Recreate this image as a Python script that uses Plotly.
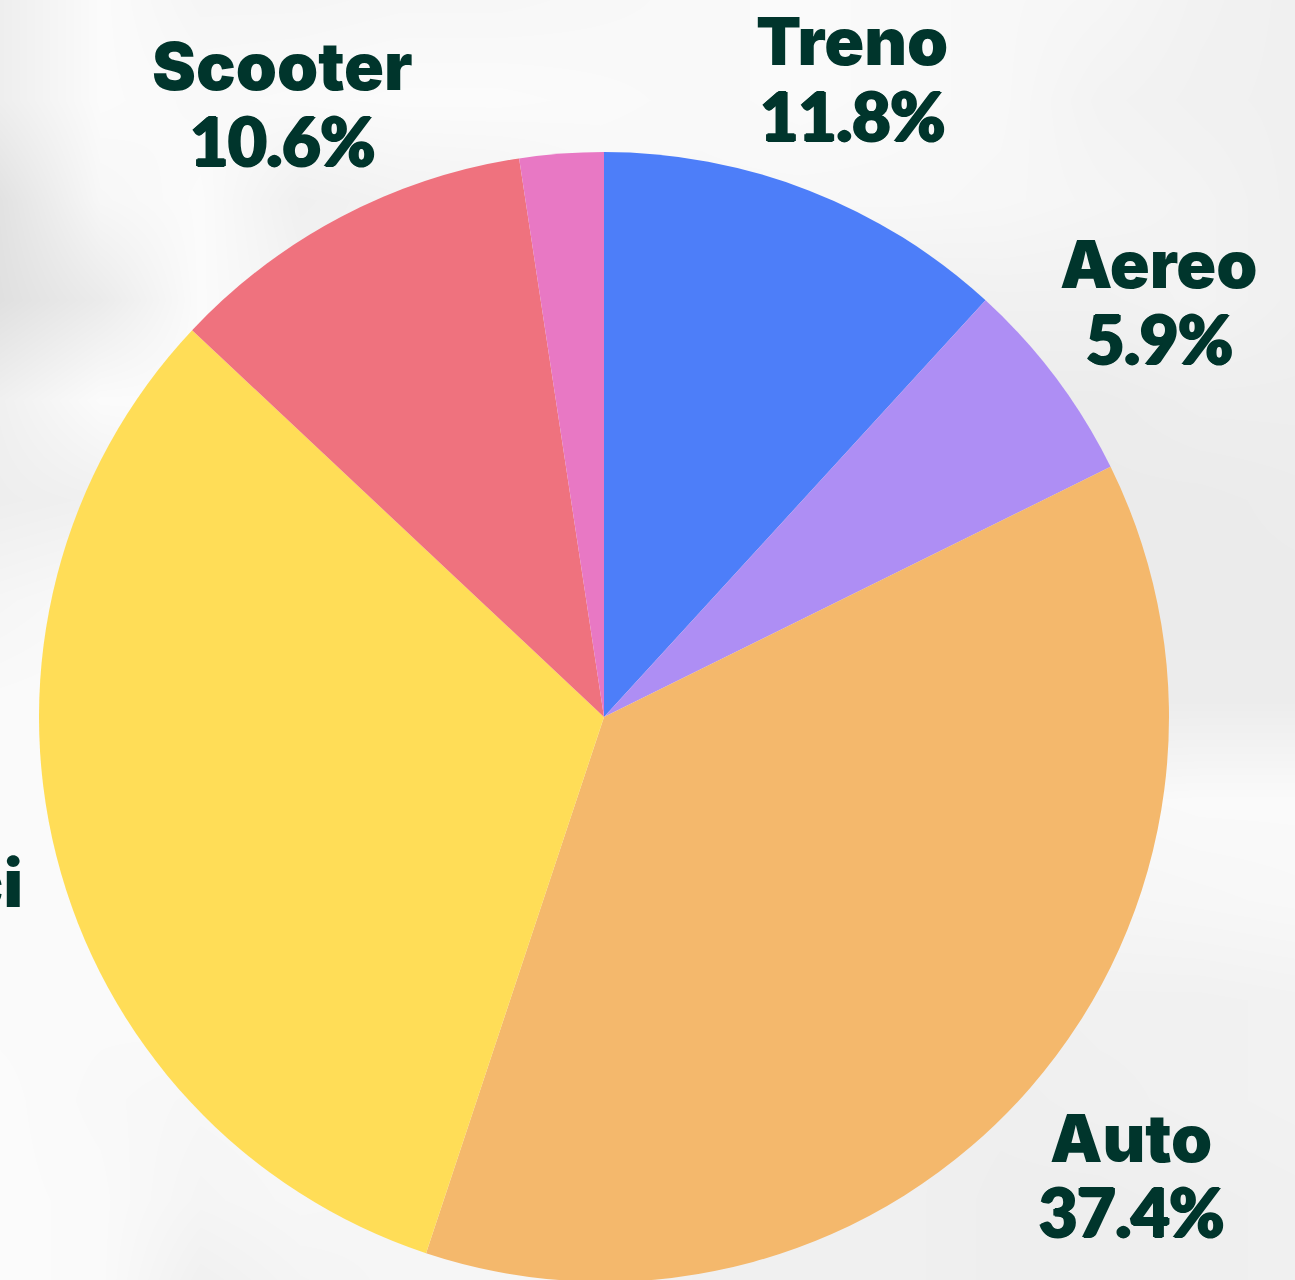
import plotly.graph_objects as go

categories = ["Treno", "Aereo", "Auto", "Mezzi pubblici", "Scooter", "Altro"]
shares = [11.8, 5.9, 37.4, 31.9, 10.6, 2.4]
slice_colors = ["#4d7ef9", "#ae8ef4", "#f4b86c", "#ffdd57", "#ef727e", "#e878c4"]

# Label placement in page pixels: (x, y of name line, y of percent line)
label_names = ["Treno", "Aereo", "Auto", "Scooter"]
label_pcts = ["11.8%", "5.9%", "37.4%", "10.6%"]
label_x = [852, 1159, 1131, 282]
label_name_y = [41, 264, 1138, 66]
label_pct_y = [115, 338, 1211, 140]

# Coarse backdrop tones
bg_x = [0, 100, 200, 300, 400, 500, 600, 700, 800, 900, 1000, 1100, 1200, 1295]
bg_y = [0, 100, 200, 300, 400, 500, 600, 700, 800, 900, 1000, 1100, 1200, 1290]
bg_z = [
    [238, 251, 246, 246, 247, 247, 248, 249, 250, 249, 248, 246, 242, 240],
    [238, 251, 249, 250, 251, 251, 250, 249, 250, 249, 248, 243, 241, 240],
    [226, 247, 251, 240, 243, 244, 248, 248, 248, 248, 247, 245, 243, 240],
    [224, 235, 251, 243, 243, 245, 246, 245, 240, 240, 241, 241, 243, 240],
    [240, 251, 251, 246, 246, 246, 246, 240, 240, 237, 236, 236, 238, 238],
    [238, 240, 251, 246, 246, 246, 246, 240, 240, 236, 235, 235, 235, 236],
    [246, 249, 251, 246, 246, 246, 246, 240, 240, 236, 235, 235, 235, 235],
    [250, 251, 251, 246, 246, 246, 246, 240, 240, 236, 235, 236, 236, 236],
    [250, 251, 251, 246, 246, 246, 246, 240, 240, 240, 240, 249, 250, 250],
    [250, 250, 251, 246, 246, 246, 246, 240, 240, 240, 240, 246, 247, 248],
    [250, 250, 251, 246, 246, 246, 246, 240, 240, 240, 240, 241, 241, 242],
    [251, 249, 247, 248, 246, 246, 246, 240, 240, 240, 239, 240, 241, 242],
    [251, 250, 245, 247, 246, 246, 246, 240, 240, 240, 238, 238, 239, 240],
    [251, 250, 240, 244, 246, 246, 246, 240, 240, 240, 238, 238, 239, 240],
]

INK = "#00352c"
THICKEN = "1.5px 0 0 #00352c, -1.5px 0 0 #00352c, 0 1px 0 #00352c, 0 -1px 0 #00352c"

fig = go.Figure()

fig.add_trace(go.Heatmap(
    x=bg_x, y=bg_y, z=bg_z, zsmooth="best", zmin=0, zmax=255,
    colorscale=[[0, "#000000"], [1, "#ffffff"]], showscale=False, hoverinfo="skip",
))

fig.add_trace(go.Pie(
    labels=categories, values=shares, sort=False, direction="clockwise", rotation=0,
    marker=dict(colors=slice_colors, line=dict(width=0)), textinfo="none",
    showlegend=False, hoverinfo="label+percent",
    domain=dict(x=[39 / 1295, 1169 / 1295], y=[(1290 - 1282) / 1290, (1290 - 152) / 1290]),
))

name_font = dict(family="Inter", size=66, color=INK, weight=900)
pct_font = dict(family="Lato", size=66, color=INK, weight=900, shadow=THICKEN)
annotations = []
for name, pct, x, y1, y2 in zip(label_names, label_pcts, label_x, label_name_y, label_pct_y):
    annotations.append(dict(x=x, y=y1, text=name, xref="x", yref="y", showarrow=False,
                            xanchor="center", yanchor="middle", font=name_font))
    annotations.append(dict(x=x, y=y2, text=pct, xref="x", yref="y", showarrow=False,
                            xanchor="center", yanchor="middle", font=pct_font))
# The left label runs off the page; its last letter ends just inside the edge
annotations.append(dict(x=25, y=883, text=categories[3], xref="x", yref="y", showarrow=False,
                        xanchor="right", yanchor="middle", font=name_font))

fig.update_layout(
    width=1295, height=1290, margin=dict(l=0, r=0, t=0, b=0),
    paper_bgcolor="#ffffff", plot_bgcolor="#ffffff",
    xaxis=dict(visible=False, range=[0, 1295], fixedrange=True),
    yaxis=dict(visible=False, range=[1290, 0], fixedrange=True),
    annotations=annotations,
)

fig.write_html(
    "out.html",
    config=dict(displayModeBar=False),
    post_script="document.body.style.margin='0';document.documentElement.style.overflow='hidden';document.body.style.overflow='hidden';",
)
